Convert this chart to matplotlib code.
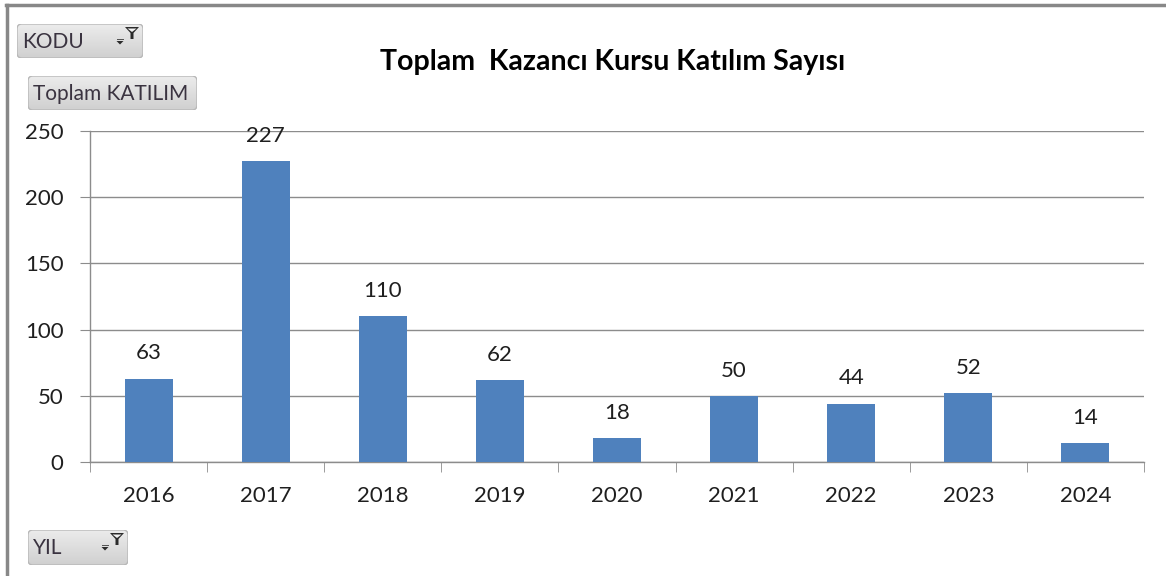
import matplotlib
matplotlib.use("Agg")
import matplotlib.pyplot as plt
from matplotlib.patches import FancyBboxPatch, Polygon
import numpy as np

years = ["2016", "2017", "2018", "2019", "2020", "2021", "2022", "2023", "2024"]
values = [63, 227, 110, 62, 18, 50, 44, 52, 14]
yticks = [0, 50, 100, 150, 200, 250]
title = "Toplam  Kazancı Kursu Katılım Sayısı"

W, H = 1166, 576
fig = plt.figure(figsize=(W / 100, H / 100), dpi=100)
plt.rcParams['font.family'] = ['Lato', 'DejaVu Sans']

def fx(px):
    return px / W

def fy(py):
    return 1 - py / H

ax = fig.add_axes([fx(90), fy(462), fx(1144) - fx(90), fy(131) - fy(462)])
x = np.arange(len(years))
ax.bar(x, values, width=0.41, color="#4F81BD", zorder=3)
ax.set_xlim(-0.5, len(years) - 0.5)
ax.set_ylim(0, 250)
ax.set_yticks(yticks)
ax.set_yticklabels([str(t) for t in yticks])
ax.yaxis.grid(True, color="#8c8c8c", linewidth=1.0, zorder=0)
ax.set_axisbelow(True)
for s in ["top", "right"]:
    ax.spines[s].set_visible(False)
for s in ["left", "bottom"]:
    ax.spines[s].set_color("#8c8c8c")
    ax.spines[s].set_linewidth(1.0)
ax.tick_params(axis="y", length=7, color="#8c8c8c", labelsize=16, labelcolor="#1f1f1f", pad=12)
ax.set_xticks(x)
ax.set_xticklabels(years)
ax.tick_params(axis="x", length=0, labelsize=16, labelcolor="#1f1f1f", pad=17)
ax.set_xticks(np.arange(-0.5, len(years), 1.0), minor=True)
ax.tick_params(axis="x", which="minor", length=7, color="#8c8c8c")

for xi, v in zip(x, values):
    ax.annotate(str(v), (xi, v), xytext=(0, 11), textcoords="offset points",
                ha="center", va="bottom", fontsize=16, color="#1f1f1f")

fig.text(fx(613), fy(62), title, ha="center", va="center", fontsize=20.5,
         fontweight="bold", color="#000000")

# border lines (top and left)
fig.add_artist(plt.Line2D([fx(6), 1], [fy(5), fy(5)], color="#888888", linewidth=2.5))
fig.add_artist(plt.Line2D([fx(7), fx(7)], [0, fy(5)], color="#888888", linewidth=2.5))

def poly(pts, color):
    fig.add_artist(Polygon([(fx(a), fy(b)) for a, b in pts], closed=True,
                           transform=fig.transFigure, facecolor=color,
                           edgecolor="none", zorder=10))

grad = np.linspace(0, 1, 64).reshape(-1, 1)

def button(x0, y0, x1, y1, label, funnel):
    bax = fig.add_axes([fx(x0), fy(y1), fx(x1) - fx(x0), fy(y0) - fy(y1)])
    bax.set_axis_off()
    bax.set_xlim(0, 1)
    bax.set_ylim(0, 1)
    im = bax.imshow(grad, cmap=matplotlib.colors.LinearSegmentedColormap.from_list(
        "g", ["#ececec", "#d0d0d0"]), extent=(0, 1, 0, 1), aspect="auto",
        origin="upper")
    r = 5.0 / (x1 - x0)
    b = FancyBboxPatch((0, 0), 1, 1, boxstyle=f"round,pad=0,rounding_size={r}",
                       mutation_aspect=(x1 - x0) / (y1 - y0),
                       transform=bax.transAxes, facecolor="none",
                       edgecolor="#b8b8b8", linewidth=1.0)
    bax.add_patch(b)
    im.set_clip_path(b)
    fig.text(fx(x0 + 5), fy((y0 + y1) / 2 + 1), label, ha="left", va="center",
             fontsize=15, color="#3a3340", zorder=10)
    if funnel:
        cx = x1 - 11
        ty = y0 + 3
        poly([(cx - 7, ty), (cx + 7, ty), (cx + 1.5, ty + 6), (cx + 1.5, ty + 12),
              (cx - 1.5, ty + 12), (cx - 1.5, ty + 6)], "#2b2b2b")
        poly([(cx - 4.5, ty + 1.5), (cx + 4.5, ty + 1.5), (cx, ty + 5)], "#f4f4f4")
        ax_ = x1 - 23
        ay = y0 + 17
        poly([(ax_ - 3.5, ay), (ax_ + 3.5, ay), (ax_, ay + 3.5)], "#2b2b2b")
        poly([(ax_ - 3.5, ay - 2), (ax_ + 3.5, ay - 2), (ax_ + 3.5, ay - 1), (ax_ - 3.5, ay - 1)], "#555555")

button(17, 24, 143, 58, "KODU", True)
button(28, 76, 197, 110, "Toplam KATILIM", False)
button(28, 530, 128, 565, "YIL", True)

fig.savefig("out.png", dpi=100, facecolor="white")
